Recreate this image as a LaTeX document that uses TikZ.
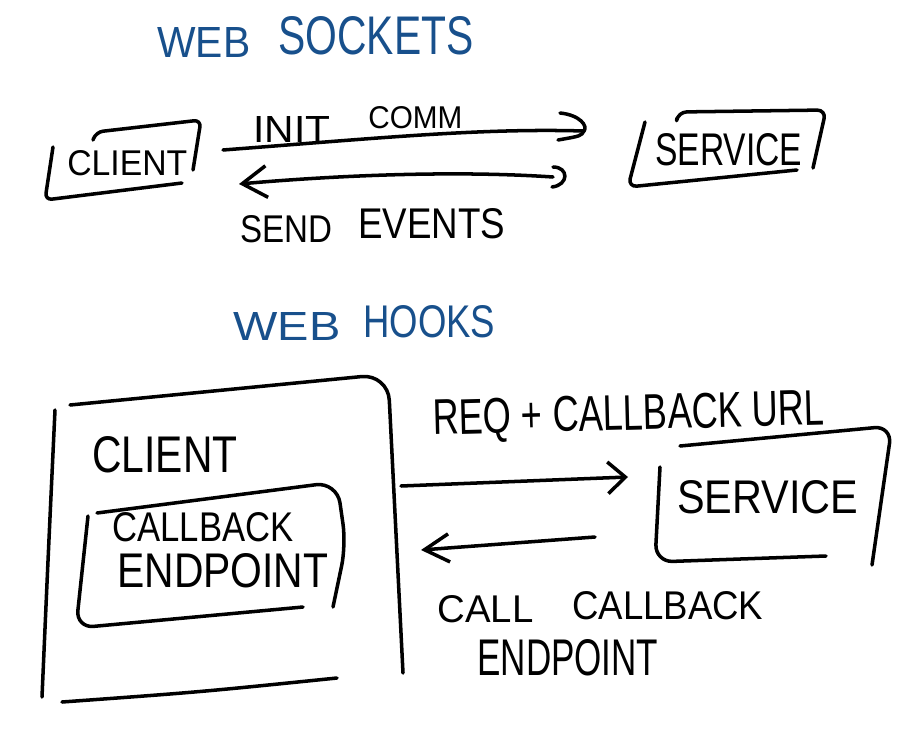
\documentclass[tikz,border=0pt]{standalone}
\usepackage{fontspec}
\setmainfont{Liberation Sans}
\usepackage{graphicx}
\usetikzlibrary{arrows.meta}
\definecolor{inkblue}{RGB}{24,80,140}
\newlength\pxu \setlength\pxu{0.02cm}
\newcommand\hw[3]{\resizebox{#1\pxu}{#2\pxu}{#3}}
\begin{document}
\begin{tikzpicture}[x=0.02cm,y=-0.02cm,
  ink/.style={line width=2pt,line cap=round,line join=round},
  lbl/.style={inner sep=0pt,anchor=base west},
  ttl/.style={lbl,text=inkblue}]
\fill[white] (0,0) rectangle (913,730);
\path[use as bounding box] (0,0) rectangle (913,730);

% titles
\node[ttl] (t1a) at (157,57) {\hw{93}{30}{WEB}};
\node[ttl] (t1b) at (278,54) {\hw{195}{38}{SOCKETS}};
\node[ttl] (t2a) at (233,340) {\hw{107}{28}{WEB}};
\node[ttl] (t2b) at (363,337) {\hw{132}{32}{HOOKS}};

% --- web sockets ---
\node[lbl] (c1) at (67,175) {\hw{120}{25}{CLIENT}};
\node[lbl] (s1) at (655,165) {\hw{147}{32}{SERVICE}};
\node[lbl] (l1a) at (253,142) {\hw{77}{26}{INIT}};
\node[lbl] (l1b) at (368,128) {\hw{94}{22}{COMM}};
\node[lbl] (l2a) at (240,242) {\hw{92}{27}{SEND}};
\node[lbl] (l2b) at (358,238) {\hw{147}{30}{EVENTS}};

\draw[ink,rounded corners=4] (53,147) -- (45,200) -- (182,183);
\draw[ink,rounded corners=4] (93,140) -- (96,132) -- (201,120) -- (193,170);
\draw[ink,rounded corners=5] (645,122) -- (628,187) -- (797,170);
\draw[ink,rounded corners=5] (677,118) -- (678,112) -- (826,110) -- (813,168);

\coordinate (a1s) at (223,150);
\coordinate (a1e) at (584,131);
\draw[ink] (a1s) .. controls (380,138) and (480,128) .. (a1e);
\draw[ink] ([shift={(-24,-18)}]a1e) .. controls ([shift={(-4,-16)}]a1e) and ([shift={(4,-5)}]a1e) .. (a1e)
  .. controls ([shift={(-3,5)}]a1e) .. ([shift={(-26,9)}]a1e);
\coordinate (a2s) at (553,177);
\coordinate (a2e) at (239,184);
\draw[ink,-{Straight Barb[length=14pt,width=18pt]}] (a2s) .. controls (450,170) and (330,176) .. (a2e);
\draw[ink] ([shift={(0,-10)}]a2s) .. controls ([shift={(16,-10)}]a2s) and ([shift={(16,8)}]a2s) .. ([shift={(-1,10)}]a2s);

% --- web hooks ---
\node[lbl] (c2) at (92,472) {\hw{145}{36}{CLIENT}};
\node[lbl] (cb1) at (112,541) {\hw{181}{29}{CALLBACK}};
\node[lbl] (cb2) at (117,587) {\hw{211}{34}{ENDPOINT}};
\node[lbl] (s2) at (677,513) {\hw{181}{33}{SERVICE}};
\node[lbl,rotate=1.5] (l3) at (433,435) {\hw{392}{35}{REQ + CALLBACK URL}};
\node[lbl] (l4a) at (437,622) {\hw{96}{27}{CALL}};
\node[lbl] (l4c) at (572,619) {\hw{191}{28}{CALLBACK}};
\node[lbl] (l4b) at (477,675) {\hw{181}{36}{ENDPOINT}};

% outer client box
\draw[ink,rounded corners=15] (70,405) -- (388,374) -- (403,673);
\draw[ink] (55,410) .. controls (48,560) .. (42,697);
\draw[ink] (62,702) .. controls (200,692) .. (337,678);
% inner callback box
\draw[ink,rounded corners=12] (97,513) -- (337,482) -- (346,545) -- (333,607);
\draw[ink,rounded corners=10] (88,516) -- (76,628) -- (303,607);
% service box
\draw[ink,rounded corners=10] (680,446) -- (892,426) -- (872,565);
\draw[ink,rounded corners=10] (660,467) -- (655,562) -- (826,556);

\coordinate (a3s) at (401,486);
\coordinate (a3e) at (628,477);
\draw[ink,-{Straight Barb[length=10pt,width=18pt]}] (a3s) -- (a3e);
\coordinate (a4s) at (595,537);
\coordinate (a4e) at (421,550);
\draw[ink,-{Straight Barb[length=14pt,width=16pt]}] (a4s) -- (a4e);
\end{tikzpicture}
\end{document}
